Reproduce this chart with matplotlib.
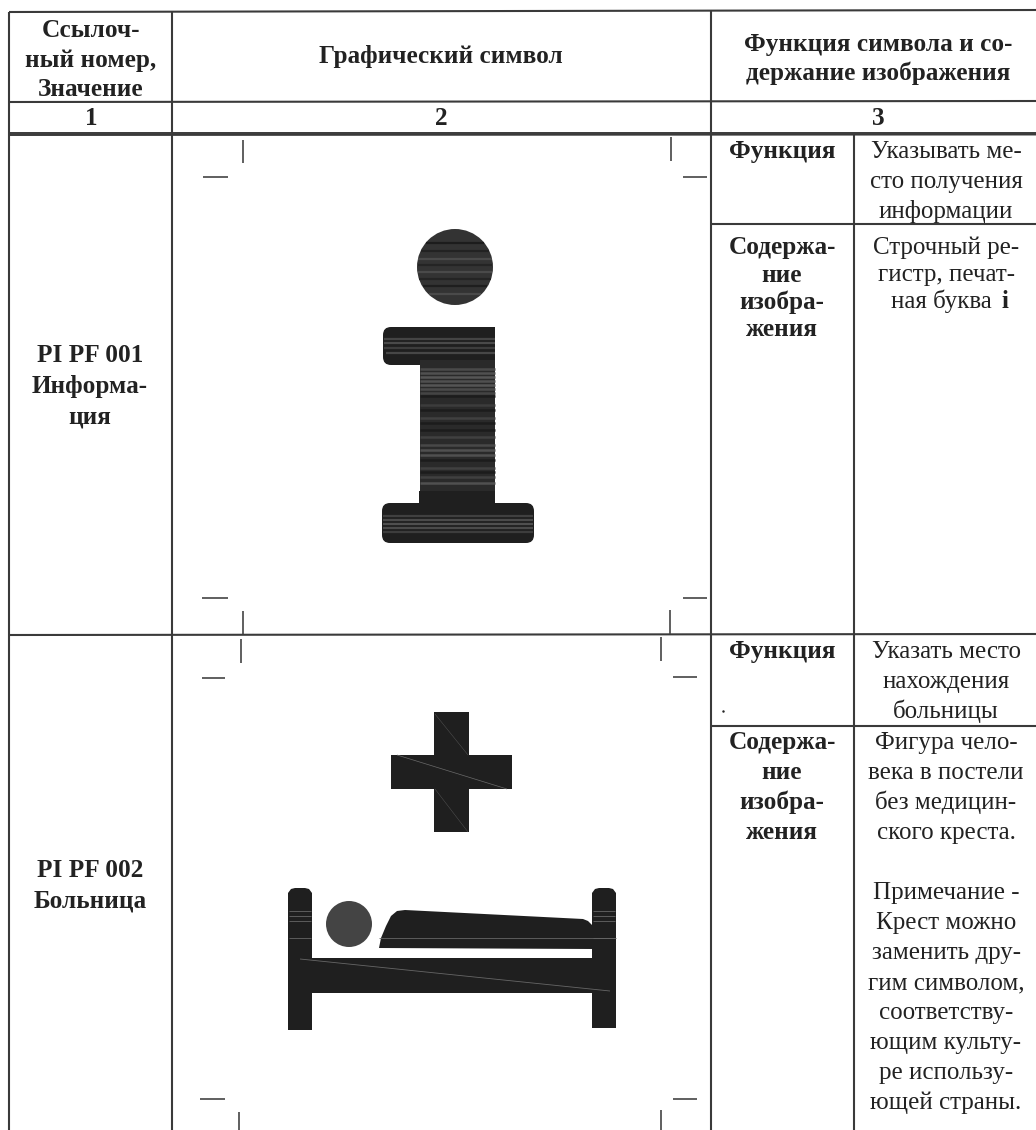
import numpy as np
import matplotlib
matplotlib.use('Agg')
import matplotlib.pyplot as plt
from matplotlib.patches import Polygon, Circle, Rectangle, FancyBboxPatch

plt.rcParams['font.family'] = ['Liberation Serif', 'DejaVu Serif']

W, H = 1036, 1130
INK = '#1f1f1f'
LINE = '#3a3a3a'
TXT = '#222222'
HEAD_SIZE = 18.2
BODY_SIZE = 18.0

header_col1 = ['Ссылоч-', 'ный номер,', 'Значение']
header_col2 = 'Графический символ'
header_col3 = ['Функция символа и со-', 'держание изображения']
col_numbers = ['1', '2', '3']
row1_id = ['PI PF 001', 'Информа-', 'ция']
row2_id = ['PI PF 002', 'Больница']
label_func = 'Функция'
label_content = ['Содержа-', 'ние', 'изобра-', 'жения']
row1_func = ['Указывать ме-', 'сто получения', 'информации']
row1_content = ['Строчный ре-', 'гистр, печат-']
row1_last = 'ная буква'
row1_letter = 'i'
row2_func = ['Указать место', 'нахождения', 'больницы']
row2_content = ['Фигура чело-', 'века в постели', 'без медицин-', 'ского креста.']
row2_note = ['Примечание -', 'Крест можно', 'заменить дру-', 'гим символом,',
             'соответству-', 'ющим культу-', 'ре использу-', 'ющей страны.']

crop_marks = [
    (243, 140, 243, 163), (203, 177, 228, 177), (671, 137, 671, 161), (683, 177, 707, 177),
    (202, 598, 228, 598), (243, 611, 243, 634), (683, 598, 707, 598), (670, 610, 670, 634),
    (241, 639, 241, 663), (202, 678, 225, 678), (661, 637, 661, 661), (673, 677, 697, 677),
    (200, 1099, 225, 1099), (239, 1112, 239, 1130), (673, 1099, 697, 1099), (661, 1110, 661, 1130),
]

fig = plt.figure(figsize=(W / 100, H / 100), dpi=100, facecolor='white')
ax = fig.add_axes([0, 0, 1, 1])
ax.set_xlim(0, W)
ax.set_ylim(H, 0)
ax.axis('off')


def seg(x0, y0, x1, y1, lw=1.5, c=LINE):
    ax.plot([x0, x1], [y0, y1], color=c, lw=lw, solid_capstyle='butt')


def put(t, x, yc, size=BODY_SIZE, bold=False, ha='center'):
    ax.text(x, yc + 6, t, ha=ha, va='baseline', fontsize=size,
            fontweight='bold' if bold else 'normal', color=TXT)


def block(lines, cx, top, step=30, size=BODY_SIZE, bold=False):
    for i, t in enumerate(lines):
        put(t, cx, top + i * step, size, bold)


# grid
seg(9, 12, 1036, 10)
seg(9, 102, 1036, 101)
seg(9, 132.5, 1036, 132.5, lw=1.4)
seg(9, 135, 1036, 134.5, lw=1.4)
seg(9, 635, 1036, 634)
seg(9, 12, 9, 1130)
seg(172, 12, 172, 1130)
seg(710.5, 10, 710.5, 1130)
seg(854, 135, 854, 1130)
seg(710, 224, 1036, 224)
seg(710, 726, 1036, 726)

# header
block(header_col1, 91, 31, step=29.5, size=HEAD_SIZE, bold=True)
put(header_col2, 441, 57, HEAD_SIZE, True)
block(header_col3, 878, 45, step=29, size=HEAD_SIZE, bold=True)
for t, cx in zip(col_numbers, (91, 441, 878)):
    put(t, cx, 119, HEAD_SIZE, True)

# first column ids
block(row1_id, 90, 356, step=30.5, size=HEAD_SIZE, bold=True)
block(row2_id, 90, 871, step=31, size=HEAD_SIZE, bold=True)

# col 3, first row
put(label_func, 782, 152, HEAD_SIZE, True)
block(label_content, 782, 248, step=27.5, size=HEAD_SIZE, bold=True)
block(row1_func, 946, 152, step=30)
block(row1_content, 946, 248, step=27)
put(row1_last, 992, 302, ha='right')
put(row1_letter, 1001, 302, bold=True, ha='left')

# col 3, second row
put(label_func, 782, 652, HEAD_SIZE, True)
block(label_content, 782, 743, step=30, size=HEAD_SIZE, bold=True)
block(row2_func, 946, 652, step=30)
block(row2_content, 946, 743, step=30)
block(row2_note, 946, 893, step=30)

# stray dot
ax.plot([723], [711], marker='.', ms=1.5, color=TXT)

for m in crop_marks:
    seg(*m, lw=1.2, c='#444444')

# info symbol
ax.add_patch(Circle((455, 267), 38, fc='#333333', ec='none'))
ax.add_patch(FancyBboxPatch((383, 327), 112, 38, boxstyle='round,pad=0,rounding_size=8', fc=INK, ec='none'))
ax.add_patch(Rectangle((440, 327), 55, 38, fc=INK, ec='none'))
ax.add_patch(Rectangle((420, 360), 75, 145, fc='#2a2a2a', ec='none'))
ax.add_patch(Rectangle((419, 491), 76, 16, fc=INK, ec='none'))
ax.add_patch(FancyBboxPatch((382, 503), 152, 40, boxstyle='round,pad=0,rounding_size=8', fc=INK, ec='none'))

bar_stripes = [(339, '#444444', 384), (343, '#4a4a4a', 384), (348, '#3d3d3d', 384), (353, '#474747', 386)]
stem_stripes = [(369, '#4a4a4a'), (373, '#505050'), (377, '#555555'), (381, '#505050'), (385, '#555555'),
                (389, '#4a4a4a'), (393, '#444444'), (396, '#1c1c1c'), (405, '#3c3c3c'), (410, '#1c1c1c'),
                (418, '#404040'), (423, '#1c1c1c'), (430, '#1c1c1c'), (437, '#404040'), (445, '#484848'),
                (450, '#505050'), (455, '#505050'), (460, '#1c1c1c'), (468, '#404040'), (472, '#1c1c1c'),
                (477, '#404040'), (483, '#505050')]
foot_stripes = [(516, '#404040'), (520, '#4a4a4a'), (524, '#4f4f4f'), (528, '#4a4a4a'), (532, '#3d3d3d')]
for y, c, x0 in bar_stripes:
    seg(x0, y, 495, y, lw=1.6, c=c)
for y, c in stem_stripes:
    seg(420, y, 495, y, lw=1.8, c=c)
for y, c in foot_stripes:
    seg(383, y, 533, y, lw=1.6, c=c)
circle_stripes = [(243, '#1c1c1c'), (251, '#222222'), (259, '#4a4a4a'), (265, '#242424'), (272, '#4a4a4a'),
                  (279, '#242424'), (286, '#1e1e1e'), (294, '#4a4a4a')]
for y, c in circle_stripes:
    half = np.sqrt(37.5 ** 2 - (y - 267) ** 2)
    seg(455 - half, y, 455 + half, y, lw=1.6, c=c)

# cross
ax.add_patch(Rectangle((434, 712), 35, 120, fc=INK, ec='none'))
ax.add_patch(Rectangle((391, 755), 121, 34, fc=INK, ec='none'))
seg(397, 755, 507, 789, lw=0.5, c='#6a6a6a')
seg(435, 714, 468, 755, lw=0.3, c='#5a5a5a')
seg(435, 789, 468, 832, lw=0.3, c='#5a5a5a')

# bed
post_x = [(288, 312, 1030), (592, 616, 1028)]
for x0, x1, bot in post_x:
    ax.add_patch(Polygon([(x0, 893), (x0 + 3, 889), (x0 + 7, 888), (x1 - 7, 888), (x1 - 3, 889), (x1, 893),
                          (x1, bot), (x0, bot)], closed=True, fc=INK, ec='none'))
    for y in (911, 916, 921, 938):
        seg(x0 + 1, y, x1 - 1, y, lw=0.6, c='#666666')
ax.add_patch(Rectangle((288, 958), 328, 35, fc=INK, ec='none'))
ax.add_patch(Circle((349, 924), 23, fc='#444444', ec='none'))
body_x = [379, 381, 386, 391, 397, 405, 583, 588, 592, 594, 594, 379]
body_y = [948, 938, 926, 916, 911, 910, 919, 921, 925, 926, 949, 948]
ax.add_patch(Polygon(np.column_stack([body_x, body_y]), closed=True, fc=INK, ec='none'))
seg(379, 938, 616, 938, lw=0.6, c='#666666')
seg(300, 959, 610, 991, lw=0.6, c='#666666', )

fig.savefig('out.png', dpi=100, facecolor='white')
